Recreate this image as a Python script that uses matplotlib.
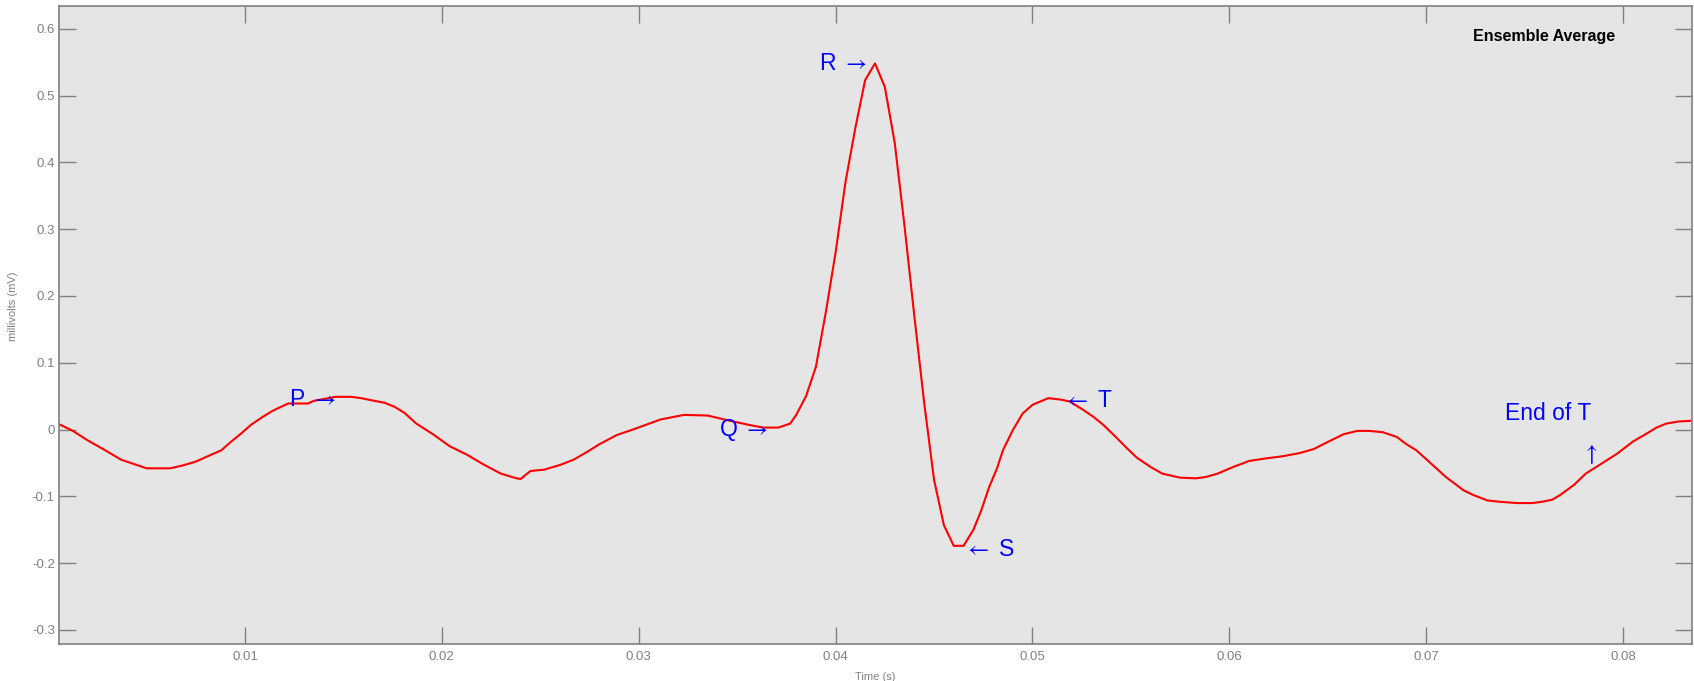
import matplotlib.pyplot as plt
from matplotlib.ticker import FuncFormatter

plt.rcParams['font.family'] = ['Liberation Sans', 'DejaVu Sans']
plt.rcParams['axes.unicode_minus'] = False
plt.rcParams['mathtext.fontset'] = 'stixsans'

# ensemble-averaged beat (time in s, amplitude in mV)
time_s = [
    0.00055, 0.0012, 0.0020, 0.0029, 0.0037, 0.0044, 0.0050, 0.0062, 0.0068,
    0.0075, 0.0081, 0.0088, 0.0093, 0.0098, 0.0103, 0.0109, 0.0114, 0.0119,
    0.0122, 0.0132, 0.0135, 0.0146, 0.0154, 0.0159, 0.0164, 0.0171, 0.0176,
    0.0181, 0.0187, 0.0196, 0.0204, 0.0213, 0.0221, 0.0230, 0.0238, 0.0240,
    0.0245, 0.0252, 0.0260, 0.0267, 0.0274, 0.0280, 0.0289, 0.0297, 0.0311,
    0.0323, 0.0335, 0.0345, 0.0356, 0.0363, 0.0371, 0.0377, 0.0380, 0.0385,
    0.0390, 0.0395, 0.0400, 0.0405, 0.0410, 0.0415, 0.0420, 0.0425, 0.0430,
    0.0435, 0.0440, 0.0445, 0.0450, 0.0455, 0.0460, 0.0465, 0.0470, 0.0474,
    0.0478, 0.0482, 0.0485, 0.0490, 0.0495, 0.0500, 0.0508, 0.0514, 0.0519,
    0.0526, 0.0531, 0.0536, 0.0543, 0.0548, 0.0553, 0.0560, 0.0566, 0.0575,
    0.0583, 0.0588, 0.0594, 0.0602, 0.0610, 0.0619, 0.0627, 0.0636, 0.0643,
    0.0649, 0.0658, 0.0665, 0.0671, 0.0678, 0.0685, 0.0690, 0.0695, 0.0704,
    0.0710, 0.0719, 0.0724, 0.0731, 0.0737, 0.0746, 0.0754, 0.0759, 0.0764,
    0.0768, 0.0775, 0.0781, 0.0788, 0.0797, 0.0805, 0.0812, 0.0817, 0.0822,
    0.0828, 0.0834,
]
millivolts = [
    0.008, -0.001, -0.016, -0.031, -0.045, -0.052, -0.058, -0.058, -0.054,
    -0.048, -0.040, -0.031, -0.018, -0.006, 0.007, 0.019, 0.028, 0.035,
    0.039, 0.039, 0.043, 0.049, 0.049, 0.047, 0.044, 0.040, 0.034,
    0.025, 0.009, -0.008, -0.025, -0.038, -0.052, -0.066, -0.073, -0.074,
    -0.062, -0.060, -0.053, -0.045, -0.033, -0.022, -0.008, 0.000, 0.015,
    0.022, 0.021, 0.014, 0.007, 0.003, 0.003, 0.009, 0.022, 0.050,
    0.094, 0.175, 0.265, 0.370, 0.451, 0.523, 0.548, 0.513, 0.430,
    0.305, 0.170, 0.040, -0.075, -0.143, -0.174, -0.174, -0.150, -0.121,
    -0.086, -0.058, -0.031, -0.001, 0.024, 0.037, 0.047, 0.045, 0.042,
    0.029, 0.019, 0.007, -0.013, -0.028, -0.042, -0.056, -0.066, -0.072,
    -0.073, -0.071, -0.066, -0.056, -0.047, -0.043, -0.040, -0.035, -0.029,
    -0.020, -0.007, -0.002, -0.002, -0.004, -0.011, -0.022, -0.031, -0.055,
    -0.071, -0.091, -0.098, -0.106, -0.108, -0.110, -0.110, -0.108, -0.105,
    -0.098, -0.083, -0.066, -0.053, -0.036, -0.018, -0.006, 0.003, 0.009,
    0.012, 0.013,
]

x_ticks = [0.01, 0.02, 0.03, 0.04, 0.05, 0.06, 0.07, 0.08]
y_ticks = [-0.3, -0.2, -0.1, 0, 0.1, 0.2, 0.3, 0.4, 0.5, 0.6]

# wave labels: (text, t, mV, horizontal alignment)
wave_labels = [
    (r"P $\rightarrow$", 0.0146, 0.045, "right"),
    (r"Q $\rightarrow$", 0.0366, 0.000, "right"),
    (r"R $\rightarrow$", 0.0416, 0.548, "right"),
    (r"$\leftarrow$ S", 0.04653, -0.180, "left"),
    (r"$\leftarrow$ T", 0.05155, 0.044, "left"),
    ("End of T", 0.0762, 0.024, "center"),
    (r"$\uparrow$", 0.0783, -0.037, "center"),
]

grey = "#808080"

fig = plt.figure(figsize=(16.94, 6.81), dpi=100)
ax = fig.add_axes([0.0348, 0.0543, 0.964, 0.9369])
ax.set_facecolor("#e5e5e5")

ax.plot(time_s, millivolts, color="red", linewidth=1.5)

for txt, t, v, ha in wave_labels:
    ax.text(t, v, txt, color="blue", fontsize=16.5, ha=ha, va="center")

ax.text(0.0724, 0.588, "Ensemble Average", fontsize=11.5, fontweight="bold",
        ha="left", va="center", color="black")

ax.set_xlim(0.00055, 0.0835)
ax.set_ylim(-0.321, 0.634)
ax.set_xticks(x_ticks)
ax.set_yticks(y_ticks)
ax.xaxis.set_major_formatter(FuncFormatter(lambda v, p: f"{v:g}"))
ax.yaxis.set_major_formatter(FuncFormatter(lambda v, p: f"{round(v, 2):g}"))
ax.tick_params(direction="in", length=12, width=1, color=grey,
               labelcolor=grey, labelsize=9.5, top=True, right=True)
ax.tick_params(axis="x", pad=5)
ax.tick_params(axis="y", pad=3)
for s in ax.spines.values():
    s.set_color(grey)
    s.set_linewidth(1.2)

ax.set_xlabel("Time (s)", fontsize=8, color=grey)
ax.set_ylabel("millivolts (mV)", fontsize=8, color=grey)
ax.xaxis.set_label_coords(0.5, -0.044)
ax.yaxis.set_label_coords(-0.0251, 0.529)

fig.savefig("out.png", dpi=100)
